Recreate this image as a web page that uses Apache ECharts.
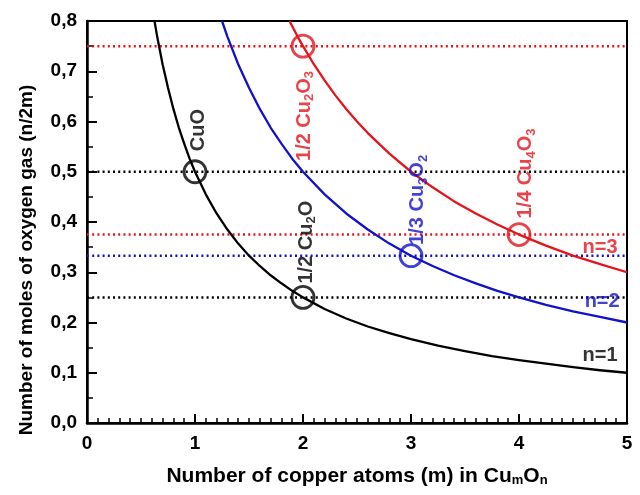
<!DOCTYPE html>
<html>
<head>
<meta charset="utf-8">
<script src="https://cdn.jsdelivr.net/npm/echarts@6/dist/echarts.min.js"></script>
<style>html,body{margin:0;padding:0;background:#fff}#c{width:640px;height:495px}</style>
</head>
<body>
<div id="c"></div>
<script>
// ---- data ----
var xTickLabels = ['0','1','2','3','4','5'];
var yTickLabels = ['0,0','0,1','0,2','0,3','0,4','0,5','0,6','0,7','0,8'];

// n = 1 curve (black)
var n1M = [0.625,0.65,0.7,0.75,0.8,0.85,0.9,0.95,1.0,1.1,1.2,1.3,1.4,1.5,1.6,1.7,1.8,1.9,2.0,2.2,2.4,2.6,2.8,3.0,3.25,3.5,3.75,4.0,4.25,4.5,4.75,5.0];
var n1Y = [0.80,0.769,0.714,0.667,0.625,0.588,0.556,0.526,0.50,0.455,0.417,0.385,0.357,0.333,0.3125,0.294,0.278,0.263,0.25,0.227,0.208,0.192,0.179,0.167,0.154,0.143,0.133,0.125,0.118,0.111,0.105,0.10];
// n = 2 curve (blue)
var n2M = [1.25,1.3,1.4,1.5,1.6,1.7,1.8,1.9,2.0,2.2,2.4,2.6,2.8,3.0,3.2,3.4,3.6,3.8,4.0,4.25,4.5,4.75,5.0];
var n2Y = [0.80,0.769,0.714,0.667,0.625,0.588,0.556,0.526,0.50,0.455,0.417,0.385,0.357,0.333,0.3125,0.294,0.278,0.263,0.25,0.235,0.222,0.211,0.20];
// n = 3 curve (red)
var n3M = [1.875,1.95,2.0,2.1,2.2,2.3,2.4,2.5,2.6,2.8,3.0,3.2,3.4,3.6,3.8,4.0,4.25,4.5,4.75,5.0];
var n3Y = [0.80,0.769,0.75,0.714,0.682,0.652,0.625,0.60,0.577,0.536,0.50,0.469,0.441,0.417,0.395,0.375,0.353,0.333,0.316,0.30];

var refLevels = [0.75,0.50,0.375,0.333,0.25];
var refColors = ['red','black','red','blue','black'];

var circleM = [1,2,2,3,4];
var circleY = [0.50,0.25,0.75,0.333,0.375];
var circleColors = ['black','black','red','blue','red'];

var labelTexts = ['{a|CuO}','{a|1/2 Cu}{s|2}{a|O}','{a|1/2 Cu}{s|2}{a|O}{s|3}','{a|1/3 Cu}{s|3}{a|O}{s|2}','{a|1/4 Cu}{s|4}{a|O}{s|3}','{a|n=3}','{a|n=2}','{a|n=1}'];
var labelM = [1.03,2.03,2.01,3.06,4.06,4.75,4.77,4.75];
var labelY = [0.583,0.36,0.611,0.444,0.4965,0.350,0.241,0.135];
var labelColors = ['black','black','red','blue','red','red','blue','black'];
var labelRotate = [90,90,90,90,90,0,0,0];

// ---- styles ----
var COL = {black:'#000000', blue:'#1212c8', red:'#e3141b'};
var FONT = '"Liberation Sans", Arial, sans-serif';

function zip(a,b){ return a.map(function(v,i){return [v,b[i]];}); }

var series = [];
[[n1M,n1Y,'black'],[n2M,n2Y,'blue'],[n3M,n3Y,'red']].forEach(function(c){
  series.push({type:'line', data:zip(c[0],c[1]), smooth:false, symbol:'none',
    lineStyle:{color:COL[c[2]], width:2.3, join:'round'}, z:3, silent:true});
});
refLevels.forEach(function(v,i){
  series.push({type:'line', data:[[0,v],[5,v]], symbol:'none',
    lineStyle:{color:COL[refColors[i]], width:2.5, type:[2,3.2]}, z:2, silent:true});
});
series.push({type:'scatter', symbol:'circle', symbolSize:22, z:5, silent:true,
  data: circleM.map(function(m,i){
    return {value:[m,circleY[i]], itemStyle:{color:'rgba(255,255,255,0)', borderColor:COL[circleColors[i]], borderWidth:2.8}};
  })
});
series.push({type:'scatter', symbolSize:0, z:6, silent:true,
  data: labelM.map(function(m,i){
    var c = COL[labelColors[i]];
    return {value:[m,labelY[i]], label:{show:true, position:'inside', rotate:labelRotate[i],
      formatter: labelTexts[i],
      rich:{
        a:{fontSize:20, fontWeight:'bold', color:c, fontFamily:FONT, lineHeight:24},
        s:{fontSize:13, fontWeight:'bold', color:c, fontFamily:FONT, verticalAlign:'bottom', lineHeight:15}
      }}};
  })
});

var chart = echarts.init(document.getElementById('c'), null, {renderer:'canvas'});
chart.setOption({
  animation:false,
  backgroundColor:'#fff',
  grid:{left:87, right:13, top:21, bottom:72, show:true, borderColor:'#000', borderWidth:2, backgroundColor:'transparent'},
  xAxis:{type:'value', min:0, max:5, interval:1,
    axisLine:{show:true, onZero:false, lineStyle:{color:'#000', width:2.5}},
    axisTick:{show:true, inside:true, length:9, lineStyle:{color:'#000', width:2}},
    minorTick:{show:true, splitNumber:10, length:5, lineStyle:{color:'#000', width:1.5}},
    splitLine:{show:false},
    axisLabel:{margin:11, color:'#000', fontSize:19, fontWeight:'bold', fontFamily:FONT,
      formatter:function(v){ return xTickLabels[Math.round(v)]; }},
    name:'Number of copper atoms (m) in Cu{s|m}O{s|n}', nameLocation:'middle', nameGap:43,
    nameTextStyle:{color:'#000', fontSize:21, fontWeight:'bold', fontFamily:FONT,
      rich:{s:{fontSize:13, fontWeight:'bold', fontFamily:FONT, color:'#000', verticalAlign:'bottom', lineHeight:18}}}
  },
  yAxis:{type:'value', min:0, max:0.8, interval:0.1,
    axisLine:{show:true, onZero:false, lineStyle:{color:'#000', width:2.5}},
    axisTick:{show:true, inside:true, length:10, lineStyle:{color:'#000', width:2}},
    minorTick:{show:true, splitNumber:2, length:6, lineStyle:{color:'#000', width:1.5}},
    splitLine:{show:false},
    axisLabel:{margin:10, color:'#000', fontSize:19, fontWeight:'bold', fontFamily:FONT,
      formatter:function(v){ return yTickLabels[Math.round(v*10)]; }},
    name:'Number of moles of oxygen gas (n/2m)', nameLocation:'middle', nameGap:51, nameRotate:90,
    nameTextStyle:{color:'#000', fontSize:19, fontWeight:'bold', fontFamily:FONT, padding:[0,76,0,0]}
  },
  series:series
});
</script>
</body>
</html>
